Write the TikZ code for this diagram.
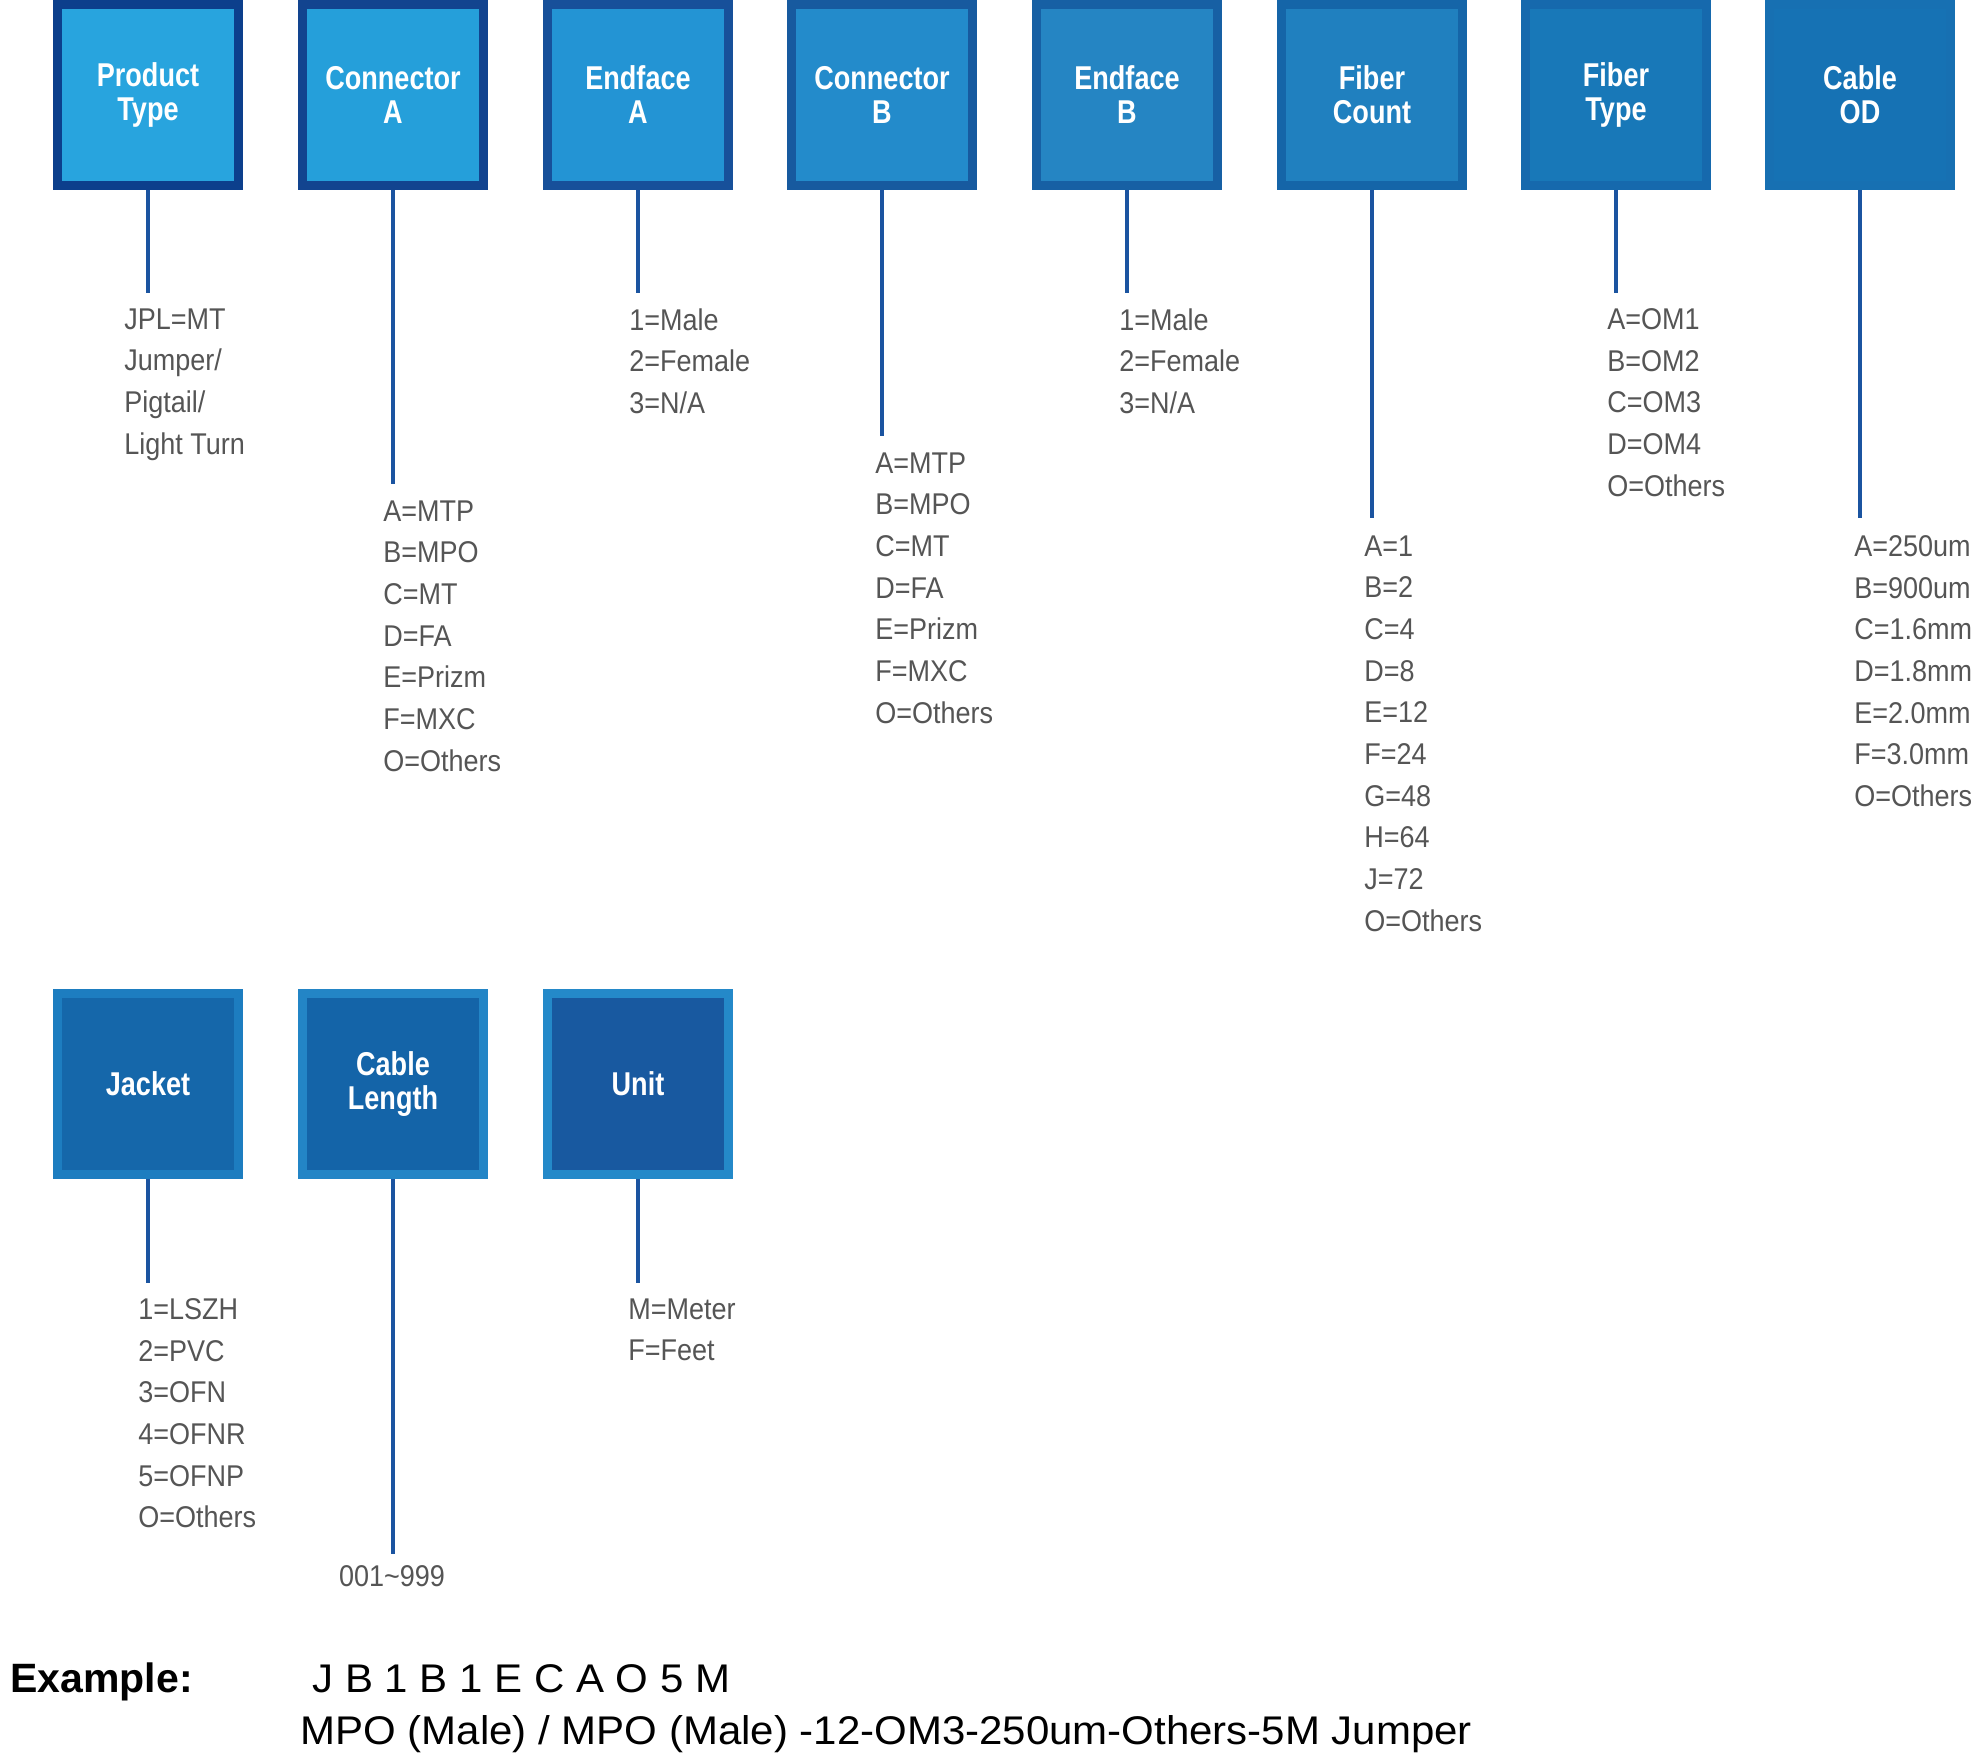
\documentclass[tikz,border=0pt]{standalone}
\usepackage{fontspec}
\setmainfont{Liberation Sans}
\newfontfamily\titlefont{Liberation Sans}[FakeStretch=0.82]
\newfontfamily\listfont{Liberation Sans}[FakeStretch=0.9]
\newfontfamily\examplefont{Liberation Sans}[FakeStretch=1.05]

% box borders and fills, left to right
\definecolor{edgeA}{HTML}{0C3F8C}\definecolor{fillA}{HTML}{28A4DE}
\definecolor{edgeB}{HTML}{12448F}\definecolor{fillB}{HTML}{259FDA}
\definecolor{edgeC}{HTML}{17509A}\definecolor{fillC}{HTML}{2394D4}
\definecolor{edgeD}{HTML}{175A9F}\definecolor{fillD}{HTML}{238BCB}
\definecolor{edgeE}{HTML}{1760A4}\definecolor{fillE}{HTML}{2585C3}
\definecolor{edgeF}{HTML}{1565A8}\definecolor{fillF}{HTML}{2080BF}
\definecolor{edgeG}{HTML}{1669AD}\definecolor{fillG}{HTML}{1878B8}
\definecolor{edgeH}{HTML}{1770B2}\definecolor{fillH}{HTML}{1672B4}
\definecolor{edgeI}{HTML}{1D7DC0}\definecolor{fillI}{HTML}{1567AA}
\definecolor{edgeJ}{HTML}{2385C6}\definecolor{fillJ}{HTML}{1464A8}
\definecolor{edgeK}{HTML}{2489C9}\definecolor{fillK}{HTML}{1859A0}
\definecolor{leadblue}{HTML}{1B54A0}
\definecolor{listgray}{HTML}{555555}

\tikzset{
  codebox/.style 2 args={draw=#1, fill=#2, line width=4.5pt, minimum size=90.5pt,
    inner sep=0pt, text=white, align=center,
    font=\titlefont\bfseries\fontsize{16.5}{17}\selectfont},
  lead/.style={draw=leadblue, line width=2pt},
  codelist/.style={anchor=north west, inner sep=0pt, align=left, text=listgray,
    font=\listfont\fontsize{15}{20.85}\selectfont},
}

\begin{document}
\begin{tikzpicture}[x=0.5pt, y=-0.5pt]
  \useasboundingbox (0,0) rectangle (1972,1754);

  % first row of code boxes
  \node[codebox={edgeA}{fillA}] (ptype) at (148,95) {Product\\Type};
  \node[codebox={edgeB}{fillB}] (conna) at (393,95) {Connector\\A};
  \node[codebox={edgeC}{fillC}] (enda) at (638,95) {Endface\\A};
  \node[codebox={edgeD}{fillD}] (connb) at (882,95) {Connector\\B};
  \node[codebox={edgeE}{fillE}] (endb) at (1127,95) {Endface\\B};
  \node[codebox={edgeF}{fillF}] (fcount) at (1372,95) {Fiber\\Count};
  \node[codebox={edgeG}{fillG}] (ftype) at (1616,95) {Fiber\\Type};
  \node[codebox={edgeH}{fillH}] (cableod) at (1860,95) {Cable\\OD};

  % second row
  \node[codebox={edgeI}{fillI}] (jacket) at (148,1084) {Jacket};
  \node[codebox={edgeJ}{fillJ}] (length) at (393,1084) {Cable\\Length};
  \node[codebox={edgeK}{fillK}] (unit) at (638,1084) {Unit};

  % ends of the leads
  \coordinate (ptype-end) at (148,293);
  \coordinate (conna-end) at (393,484);
  \coordinate (enda-end) at (638,293);
  \coordinate (connb-end) at (882,436);
  \coordinate (endb-end) at (1127,293);
  \coordinate (fcount-end) at (1372,518);
  \coordinate (ftype-end) at (1616,293);
  \coordinate (cableod-end) at (1860,518);
  \coordinate (jacket-end) at (148,1283);
  \coordinate (length-end) at (393,1554);
  \coordinate (unit-end) at (638,1283);

  \begin{scope}[lead]
    \draw (ptype.south) -- (ptype-end);
    \draw (conna.south) -- (conna-end);
    \draw (enda.south) -- (enda-end);
    \draw (connb.south) -- (connb-end);
    \draw (endb.south) -- (endb-end);
    \draw (fcount.south) -- (fcount-end);
    \draw (ftype.south) -- (ftype-end);
    \draw (cableod.south) -- (cableod-end);
    \draw (jacket.south) -- (jacket-end);
    \draw (length.south) -- (length-end);
    \draw (unit.south) -- (unit-end);
  \end{scope}

  % option lists
  \node[codelist] (ptype-list) at (124,308) {JPL=MT\\Jumper/\\Pigtail/\\Light Turn};
  \node[codelist] (conna-list) at (383,500) {A=MTP\\B=MPO\\C=MT\\D=FA\\E=Prizm\\F=MXC\\O=Others};
  \node[codelist] (enda-list) at (629,308) {1=Male\\2=Female\\3=N/A};
  \node[codelist] (connb-list) at (875,452) {A=MTP\\B=MPO\\C=MT\\D=FA\\E=Prizm\\F=MXC\\O=Others};
  \node[codelist] (endb-list) at (1119,308) {1=Male\\2=Female\\3=N/A};
  \node[codelist] (fcount-list) at (1364,535) {A=1\\B=2\\C=4\\D=8\\E=12\\F=24\\G=48\\H=64\\J=72\\O=Others};
  \node[codelist] (ftype-list) at (1607,308) {A=OM1\\B=OM2\\C=OM3\\D=OM4\\O=Others};
  \node[codelist] (cableod-list) at (1854,535) {A=250um\\B=900um\\C=1.6mm\\D=1.8mm\\E=2.0mm\\F=3.0mm\\O=Others};
  \node[codelist] (jacket-list) at (138,1298) {1=LSZH\\2=PVC\\3=OFN\\4=OFNR\\5=OFNP\\O=Others};
  \node[codelist, anchor=north] (length-list) at (392,1565) {001\textasciitilde 999};
  \node[codelist] (unit-list) at (628,1298) {M=Meter\\F=Feet};

  % worked example
  \node[anchor=base west, inner sep=0pt, font=\bfseries\fontsize{20.5}{24}\selectfont] (ex-label) at (10,1692) {Example:};
  \node[anchor=base west, inner sep=0pt, font=\examplefont\fontsize{20}{24}\selectfont] (ex-code) at (312,1692) {J B 1 B 1 E C A O 5 M};
  \node[anchor=base west, inner sep=0pt, font=\examplefont\fontsize{20}{24}\selectfont] (ex-text) at (300,1744) {MPO (Male) / MPO (Male) -12-OM3-250um-Others-5M Jumper};
\end{tikzpicture}
\end{document}
